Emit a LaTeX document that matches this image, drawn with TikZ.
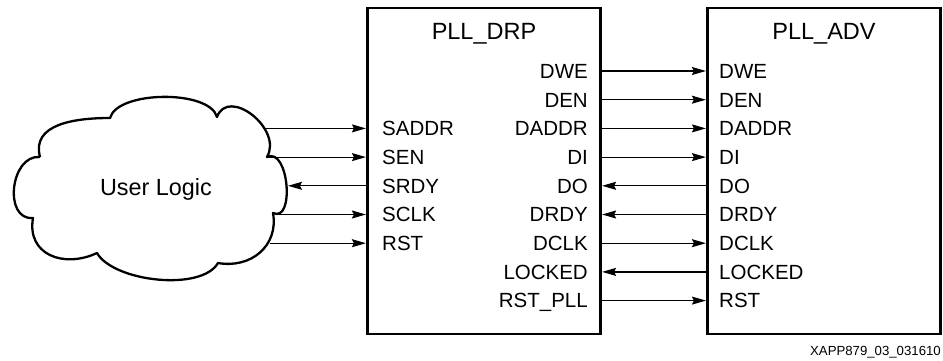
\documentclass[tikz,border=0pt]{standalone}
\usepackage{fontspec}
\setmainfont{Liberation Sans}
\usetikzlibrary{arrows.meta}
\begin{document}
\begin{tikzpicture}[x=1pt,y=1pt,
  box/.style={draw=black, line width=2.7pt, minimum width=233.5pt, minimum height=326pt, inner sep=0pt},
  lbl/.style={inner sep=0pt, font=\fontsize{20.5}{24}\selectfont, text height=14.7pt, text depth=0pt},
  ttl/.style={inner sep=0pt, font=\fontsize{23.5}{28}\selectfont, text height=16.8pt, text depth=0pt},
  sig/.style={line width=1.2pt, -{Stealth[length=14pt,width=8pt,inset=2pt]}},
  cloudline/.style={line width=2.3pt, line join=round},
]
\useasboundingbox (0,0) rectangle (943,-361);
% boxes
\node[box] (drp) at (484,-171) {};
\node[box] (adv) at (824,-171) {};
\node[ttl] (drpT) at (484,-31.5) {PLL\_DRP};
\node[ttl] (advT) at (824,-31.5) {PLL\_ADV};
% rows
\coordinate (r1) at (0,-71);
\coordinate (r2) at (0,-99.7);
\coordinate (r3) at (0,-128.4);
\coordinate (r4) at (0,-157.1);
\coordinate (r5) at (0,-185.8);
\coordinate (r6) at (0,-214.5);
\coordinate (r7) at (0,-243.2);
\coordinate (r8) at (0,-271.9);
\coordinate (r9) at (0,-300.6);
% PLL_DRP right labels
\node[lbl, anchor=east] (o1) at (588,-71) {DWE};
\node[lbl, anchor=east] (o2) at (588,-99.7) {DEN};
\node[lbl, anchor=east] (o3) at (588,-128.4) {DADDR};
\node[lbl, anchor=east] (o4) at (588,-157.1) {DI};
\node[lbl, anchor=east] (o5) at (588,-185.8) {DO};
\node[lbl, anchor=east] (o6) at (588,-214.5) {DRDY};
\node[lbl, anchor=east] (o7) at (588,-243.2) {DCLK};
\node[lbl, anchor=east] (o8) at (588,-271.9) {LOCKED};
\node[lbl, anchor=east] (o9) at (588,-300.6) {RST\_PLL};
% PLL_DRP left labels
\node[lbl, anchor=west] (s1) at (382,-128.4) {SADDR};
\node[lbl, anchor=west] (s2) at (382,-157.1) {SEN};
\node[lbl, anchor=west] (s3) at (382,-185.8) {SRDY};
\node[lbl, anchor=west] (s4) at (382,-214.5) {SCLK};
\node[lbl, anchor=west] (s5) at (382,-243.2) {RST};
% PLL_ADV labels
\node[lbl, anchor=west] (a1) at (719,-71) {DWE};
\node[lbl, anchor=west] (a2) at (719,-99.7) {DEN};
\node[lbl, anchor=west] (a3) at (719,-128.4) {DADDR};
\node[lbl, anchor=west] (a4) at (719,-157.1) {DI};
\node[lbl, anchor=west] (a5) at (719,-185.8) {DO};
\node[lbl, anchor=west] (a6) at (719,-214.5) {DRDY};
\node[lbl, anchor=west] (a7) at (719,-243.2) {DCLK};
\node[lbl, anchor=west] (a8) at (719,-271.9) {LOCKED};
\node[lbl, anchor=west] (a9) at (719,-300.6) {RST};
% connectors between blocks
\draw[sig] (drp.east |- r1) -- (adv.west |- r1);
\draw[sig] (drp.east |- r2) -- (adv.west |- r2);
\draw[sig] (drp.east |- r3) -- (adv.west |- r3);
\draw[sig] (drp.east |- r4) -- (adv.west |- r4);
\draw[sig] (adv.west |- r5) -- (drp.east |- r5);
\draw[sig] (adv.west |- r6) -- (drp.east |- r6);
\draw[sig] (drp.east |- r7) -- (adv.west |- r7);
\draw[sig] (adv.west |- r8) -- (drp.east |- r8);
\draw[sig] (drp.east |- r9) -- (adv.west |- r9);
% cloud
\draw[cloudline] (40,-157)
  to[out=105,in=180,looseness=1.1] (110,-118)
  to[out=75,in=105,looseness=0.68] (217,-117)
  to[out=70,in=60,looseness=1.3] (267,-157)
  to[out=25,in=-25,looseness=1.1] (273,-213)
  to[out=-80,in=-10,looseness=1.15] (218,-263)
  to[out=-120,in=-60,looseness=0.7] (97,-253)
  to[out=205,in=-100,looseness=1.3] (33,-218)
  to[out=185,in=175,looseness=1.25] (40,-157);
\node[inner sep=0pt, font=\fontsize{23.4}{28}\selectfont, text height=16.8pt, text depth=0pt] (user) at (156,-187) {User Logic};
% cloud side ends
\coordinate (c1) at (263,-128.4);
\coordinate (c2) at (268,-157.1);
\coordinate (c3) at (288,-185.8);
\coordinate (c4) at (275,-214.5);
\coordinate (c5) at (270,-243.2);
\draw[sig] (c1) -- (drp.west |- c1);
\draw[sig] (c2) -- (drp.west |- c2);
\draw[sig] (drp.west |- c3) -- (c3);
\draw[sig] (c4) -- (drp.west |- c4);
\draw[sig] (c5) -- (drp.west |- c5);
% caption
\node[inner sep=0pt, anchor=east, font=\fontsize{13.2}{15}\selectfont] (cap) at (941,-352) {XAPP879\_03\_031610};
\end{tikzpicture}
\end{document}
